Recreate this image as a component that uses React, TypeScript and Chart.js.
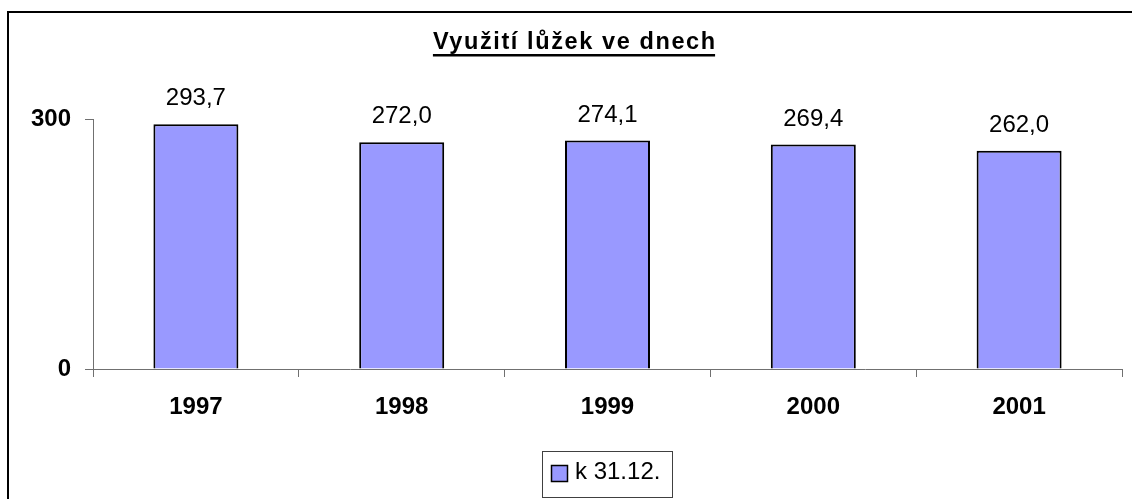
import React, { useEffect, useRef } from "react";
import { Chart, registerables } from "chart.js";

Chart.register(...registerables);

const categories = ["1997", "1998", "1999", "2000", "2001"];
const values = [293.7, 272.0, 274.1, 269.4, 262.0];
const seriesLabel = "k 31.12.";
const titleText = "Využití lůžek ve dnech";
const yTicks = [0, 300];

const FONT = "'Liberation Sans', Arial, sans-serif";
const BAR_COLOR = "#9999FF";
const AXIS_COLOR = "#707070";

export default function App() {
  const ref = useRef<HTMLCanvasElement | null>(null);

  useEffect(() => {
    document.body.style.margin = "0";
    const canvas = ref.current;
    if (!canvas) return;

    const decor = {
      id: "decor",
      beforeDraw(chart: any) {
        const ctx = chart.ctx;
        ctx.save();
        ctx.fillStyle = "#fff";
        ctx.fillRect(0, 0, chart.width, chart.height);
        ctx.fillStyle = "#000";
        ctx.fillRect(7, 11, chart.width - 7, 2);
        ctx.fillRect(7, 11, 2, chart.height - 11);
        ctx.restore();
      },
      afterDraw(chart: any) {
        const ctx = chart.ctx;
        ctx.save();
        // Title
        ctx.font = `bold 23.5px ${FONT}`;
        (ctx as any).letterSpacing = "1.6px";
        ctx.fillStyle = "#000";
        ctx.textBaseline = "alphabetic";
        ctx.textAlign = "left";
        const tw = ctx.measureText(titleText).width - 1.6;
        const cx = 574;
        const tx = cx - tw / 2;
        ctx.fillText(titleText, tx, 48.5);
        ctx.fillRect(tx, 54, tw, 2.5);
        (ctx as any).letterSpacing = "0px";

        // Legend
        const ds = chart.data.datasets[0];
        ctx.strokeStyle = "#404040";
        ctx.lineWidth = 1;
        ctx.strokeRect(542.5, 451.5, 130, 46);
        ctx.fillStyle = ds.backgroundColor;
        ctx.fillRect(551, 465, 17, 17);
        ctx.strokeStyle = "#000";
        ctx.lineWidth = 1.5;
        ctx.strokeRect(551.5, 465.5, 16, 16);
        ctx.fillStyle = "#000";
        ctx.font = `24px ${FONT}`;
        ctx.fillText(ds.label, 575, 479);
        ctx.restore();
      },
      afterDatasetsDraw(chart: any) {
        const ctx = chart.ctx;
        const meta = chart.getDatasetMeta(0);
        ctx.save();
        ctx.font = `24px ${FONT}`;
        ctx.fillStyle = "#000";
        ctx.textAlign = "center";
        ctx.textBaseline = "alphabetic";
        meta.data.forEach((bar: any, i: number) => {
          const v = chart.data.datasets[0].data[i] as number;
          const txt = v.toFixed(1).replace(".", ",");
          ctx.fillText(txt, bar.x, bar.y - 19);
        });
        ctx.restore();
      },
    };

    const chart = new Chart(canvas, {
      type: "bar",
      data: {
        labels: categories,
        datasets: [
          {
            label: seriesLabel,
            data: values,
            backgroundColor: BAR_COLOR,
            borderColor: "#000",
            borderWidth: 2,
            categoryPercentage: 1,
            barPercentage: 0.413,
          },
        ],
      },
      options: {
        animation: false,
        responsive: false,
        devicePixelRatio: 1,
        layout: { padding: { left: 0, top: 119, right: 10, bottom: 0 } },
        plugins: {
          legend: { display: false },
          title: { display: false },
          tooltip: { enabled: false },
        },
        scales: {
          x: {
            afterFit(scale: any) {
              scale.height = 130;
            },
            grid: {
              drawOnChartArea: false,
              drawTicks: true,
              tickLength: 8,
              color: AXIS_COLOR,
            },
            border: { display: true, color: AXIS_COLOR, width: 1 },
            ticks: {
              color: "#000",
              font: { family: FONT, size: 24, weight: "bold" },
              padding: 16,
              maxRotation: 0,
            },
          },
          y: {
            min: 0,
            max: 300,
            afterFit(scale: any) {
              scale.width = 93;
            },
            afterBuildTicks(scale: any) {
              scale.ticks = yTicks.map((v) => ({ value: v }));
            },
            grid: {
              drawOnChartArea: false,
              drawTicks: true,
              tickLength: 8,
              color: AXIS_COLOR,
            },
            border: { display: true, color: AXIS_COLOR, width: 1 },
            ticks: {
              color: "#000",
              font: { family: FONT, size: 24, weight: "bold" },
              padding: 14,
            },
          },
        },
      },
      plugins: [decor],
    });

    return () => chart.destroy();
  }, []);

  return (
    <div style={{ width: 1132, height: 499 }}>
      <canvas ref={ref} width={1132} height={499} style={{ display: "block" }} />
    </div>
  );
}
